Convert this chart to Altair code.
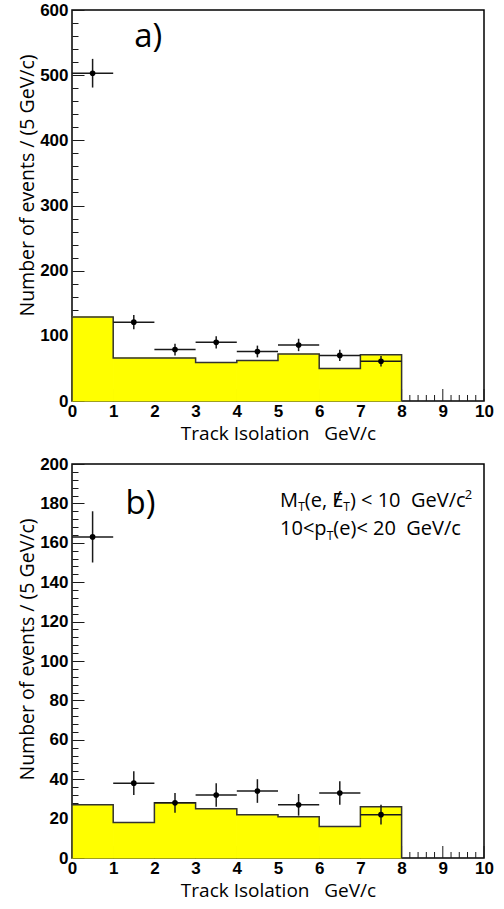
import altair as alt
import pandas as pd

# ---------------- data ----------------
bin_lo = [0, 1, 2, 3, 4, 5, 6, 7]
bin_hi = [1, 2, 3, 4, 5, 6, 7, 8]
bin_mid = [0.5, 1.5, 2.5, 3.5, 4.5, 5.5, 6.5, 7.5]

# panel a)
hist_a = [129, 66, 66, 59, 62, 72, 50, 71]
data_a = [503, 121, 79, 90, 76, 86, 70, 61]
err_a = [22, 11, 9, 9.5, 9, 9.5, 8.5, 8]

# panel b)
hist_b = [27, 18, 28, 25, 22, 21, 16, 26]
data_b = [163, 38, 28, 32, 34, 27, 33, 22]
err_b = [13, 6, 5, 6, 6, 5.5, 6, 5]

# tick values
x_major = [0, 1, 2, 3, 4, 5, 6, 7, 8, 9, 10]
x_minor = [i / 5 for i in range(0, 51) if i % 5 != 0]
y_major_a = [0, 100, 200, 300, 400, 500, 600]
y_minor_a = [v for v in range(0, 601, 20) if v % 100 != 0]
y_major_b = [0, 20, 40, 60, 80, 100, 120, 140, 160, 180, 200]
y_minor_b = [v for v in range(0, 201, 4) if v % 20 != 0]

x_title = "Track Isolation\u00a0\u00a0\u00a0GeV/c"
y_title = "Number of events / (5 GeV/c)"

# ---------------- styling ----------------
W = 412
LABEL_FONT = "Liberation Sans"
TEXT_FONT = "Open Sans"
INK = "#1a1a1a"


def panel(hist, vals, errs, ymax, ymaj, ymin, H, tag, tag_pos, title_y, notes=None):
    xs = alt.Scale(domain=[0, 10], nice=False, zero=False)
    ys = alt.Scale(domain=[0, ymax], nice=False, zero=False)

    x_axis = alt.Axis(values=x_major, format="d", ticks=False, domain=False, grid=False,
                      labelFlush=False, labelOverlap=False, labelFont=LABEL_FONT,
                      labelFontWeight="bold", labelFontSize=17, labelColor="black",
                      labelPadding=2,
                      title=x_title, titleFont=TEXT_FONT, titleFontSize=19,
                      titleFontWeight="normal", titleColor="black", titlePadding=5)
    y_axis = alt.Axis(orient="left", values=ymaj, tickCount=len(ymaj), format="d",
                      ticks=False, domain=False, grid=False,
                      labelOverlap=False, labelFont=LABEL_FONT, labelFontWeight="bold",
                      labelFontSize=17, labelColor="black", labelPadding=4,
                      title=y_title, titleFont=TEXT_FONT, titleFontSize=19.5,
                      titleFontWeight="normal", titleColor="black",
                      titleX=-39, titleY=title_y, titleBaseline="alphabetic")
    # inward-pointing tick axes (pulled into the plot by a negative offset)
    y_ticks_major = alt.Axis(orient="left", values=ymaj, offset=-12, tickSize=12,
                             tickWidth=1, tickColor=INK, ticks=True, labels=False,
                             domain=False, grid=False, title=None)
    y_ticks_minor = alt.Axis(orient="left", values=ymin, offset=-6, tickSize=6,
                             tickWidth=1, tickColor=INK, ticks=True, labels=False,
                             domain=False, grid=False, title=None)

    def X(f):
        return alt.X(f, scale=xs, axis=x_axis)

    def Y(f):
        return alt.Y(f, scale=ys, axis=y_axis)

    xmaj = alt.Chart(pd.DataFrame({"xt": x_major})).mark_rule(color=INK, strokeWidth=1).encode(
        x=X("xt:Q"), y=alt.value(H), y2=alt.value(H - 12))
    xmin = alt.Chart(pd.DataFrame({"xm": x_minor})).mark_rule(color=INK, strokeWidth=1).encode(
        x=X("xm:Q"), y=alt.value(H), y2=alt.value(H - 6))

    bins = pd.DataFrame({"lo": bin_lo, "hi": bin_hi, "n": hist})
    fill = alt.Chart(bins).mark_rect(color="#ffff00", stroke="#ffff00", strokeWidth=1).encode(
        x=X("lo:Q"), x2="hi:Q", y=Y("n:Q"), y2=alt.datum(0))

    ox, oy = [bin_lo[0]], [0]
    for lo, hi, n in zip(bin_lo, bin_hi, hist):
        ox += [lo, hi]
        oy += [n, n]
    ox.append(bin_hi[-1])
    oy.append(0)
    outline_df = pd.DataFrame({"ox": ox, "oy": oy, "i": list(range(len(ox)))})
    outline = alt.Chart(outline_df).mark_line(color="#333333", strokeWidth=1.5).encode(
        x=X("ox:Q"), y=Y("oy:Q"), order="i:Q")

    pts = pd.DataFrame({"m": bin_mid, "lo_x": bin_lo, "hi_x": bin_hi, "v": vals,
                        "lo": [v - e for v, e in zip(vals, errs)],
                        "hi": [v + e for v, e in zip(vals, errs)]})
    hbar = alt.Chart(pts).mark_rule(color=INK, strokeWidth=1.5).encode(
        x=X("lo_x:Q"), x2="hi_x:Q", y=Y("v:Q"))
    vbar = alt.Chart(pts).mark_rule(color=INK, strokeWidth=1.5).encode(
        x=X("m:Q"), y=Y("lo:Q"), y2="hi:Q")
    dots = alt.Chart(pts).mark_circle(color="black", size=32, opacity=1).encode(
        x=X("m:Q"), y=Y("v:Q"))

    tag_df = pd.DataFrame({"tx": [tag_pos[0]], "ty": [tag_pos[1]]})
    tag_mark = alt.Chart(tag_df).mark_text(
        text=tag, font=TEXT_FONT, fontSize=33, align="left", baseline="alphabetic",
        color="black").encode(x=X("tx:Q"), y=Y("ty:Q"))

    layers = [xmaj, xmin, fill, outline, hbar, vbar, dots, tag_mark]

    if notes:
        for (nx, ny, pieces) in notes:
            ndf = pd.DataFrame({"nx": [nx], "ny": [ny]})
            for (txt, dx, dy, fs) in pieces:
                layers.append(
                    alt.Chart(ndf).mark_text(
                        text=txt, font=TEXT_FONT, fontSize=fs, align="left",
                        baseline="alphabetic", dx=dx, dy=dy, color="black"
                    ).encode(x=X("nx:Q"), y=Y("ny:Q")))

    main = alt.layer(*layers)

    tick_major = alt.Chart(pd.DataFrame({"ya": ymaj})).mark_point(opacity=0).encode(
        y=alt.Y("ya:Q", scale=ys, axis=y_ticks_major), x=alt.value(0))
    tick_minor = alt.Chart(pd.DataFrame({"yb": ymin})).mark_point(opacity=0).encode(
        y=alt.Y("yb:Q", scale=ys, axis=y_ticks_minor), x=alt.value(0))

    return alt.layer(main, tick_major, tick_minor).resolve_axis(y="independent").properties(
        width=W, height=H)


notes_b = [
    (5.05, 178.0, [
        ("M", 0, 0, 20), ("T", 18.1, 4, 12), ("(e,", 24.8, 0, 20),
        ("E", 52.1, 0, 20), ("/", 54, -2, 20), ("T", 63.2, 4, 12),
        (")\u00a0<\u00a010\u00a0\u00a0GeV/c", 69.9, 0, 20), ("2", 184.8, -8, 13),
    ]),
    (5.05, 164.0, [
        ("10<p", 0, 0, 20), ("T", 46.6, 5, 12),
        ("(e)<\u00a020\u00a0\u00a0GeV/c", 53.3, 0, 20),
    ]),
]

top = panel(hist_a, data_a, err_a, 600, y_major_a, y_minor_a, 391, "a)", (1.51, 543), 175)
bottom = panel(hist_b, data_b, err_b, 200, y_major_b, y_minor_b, 394, "b)", (1.30, 174.6), 185,
               notes=notes_b)

chart = alt.vconcat(top, bottom, spacing=10).properties(
    padding={"left": 16, "top": 0, "right": 0, "bottom": 0},
    background="white",
).configure_view(stroke="black", strokeWidth=1.5)

chart.save("out.html", embed_options={"renderer": "svg", "actions": False})
